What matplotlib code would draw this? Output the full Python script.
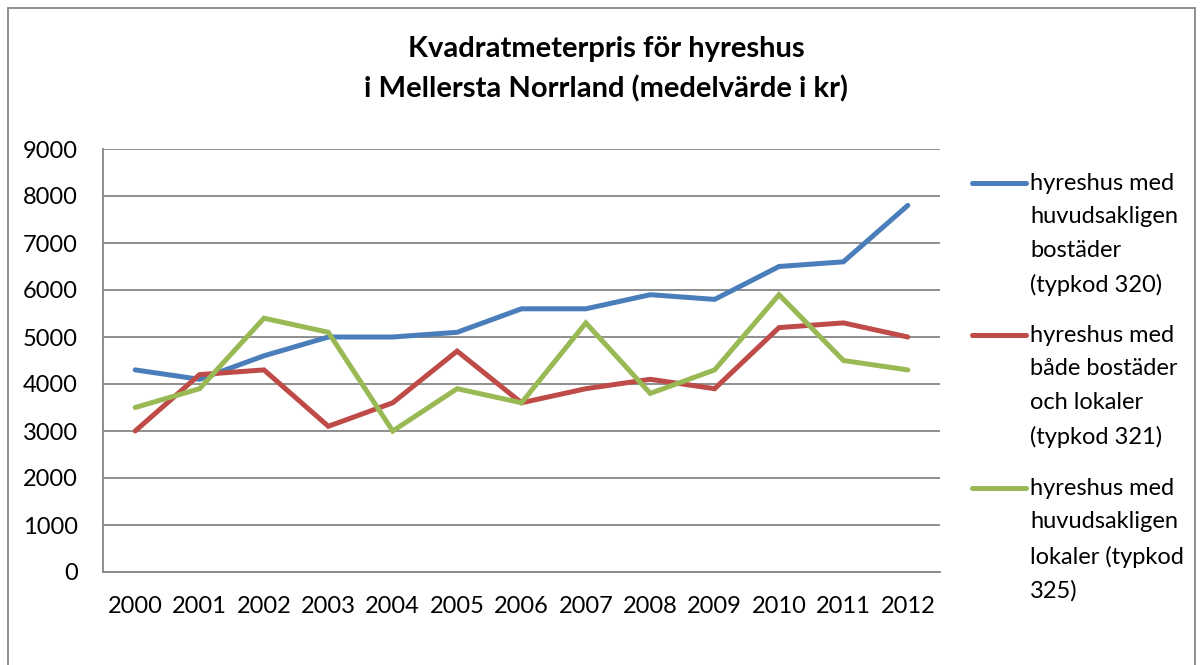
import matplotlib
matplotlib.use("Agg")
import matplotlib.pyplot as plt
from matplotlib.lines import Line2D
from matplotlib.patches import Rectangle

years = ["2000", "2001", "2002", "2003", "2004", "2005", "2006",
         "2007", "2008", "2009", "2010", "2011", "2012"]
bostader = [4300, 4100, 4600, 5000, 5000, 5100, 5600, 5600, 5900, 5800, 6500, 6600, 7800]
bostader_lokaler = [3000, 4200, 4300, 3100, 3600, 4700, 3600, 3900, 4100, 3900, 5200, 5300, 5000]
lokaler = [3500, 3900, 5400, 5100, 3000, 3900, 3600, 5300, 3800, 4300, 5900, 4500, 4300]

labels = [
    "hyreshus med\nhuvudsakligen\nbostäder\n(typkod 320)",
    "hyreshus med\nbåde bostäder\noch lokaler\n(typkod 321)",
    "hyreshus med\nhuvudsakligen\nlokaler (typkod\n325)",
]
colors = ["#4A7EBB", "#BE4B48", "#98B954"]

plt.rcParams['font.family'] = ['Lato', 'DejaVu Sans']

W, H = 1203, 665
fig = plt.figure(figsize=(W / 100, H / 100), dpi=100)

# outer chart border
fig.add_artist(Rectangle((8 / W, -0.01), (1195 - 8) / W, 1 - 8 / H + 0.01,
                         transform=fig.transFigure, fill=False,
                         ec="#868686", lw=1.3))

ax = fig.add_axes([103 / W, 1 - 572 / H, 837 / W, 423 / H])
x = range(len(years))
for vals, c in zip([bostader, bostader_lokaler, lokaler], colors):
    ax.plot(x, vals, color=c, lw=3.6, solid_capstyle="round", solid_joinstyle="miter")

ax.set_xlim(-0.5, len(years) - 0.5)
ax.set_ylim(0, 9000)
ax.set_yticks(range(0, 9001, 1000))
ax.set_xticks(list(x))
ax.set_xticklabels(years)
ax.tick_params(length=0, labelsize=17)
ax.tick_params(axis="x", pad=17)
ax.tick_params(axis="y", pad=18)
ax.grid(axis="y", color="#868686", lw=1.3)
ax.set_axisbelow(True)
for s in ["top", "right"]:
    ax.spines[s].set_visible(False)
for s in ["left", "bottom"]:
    ax.spines[s].set_color("#868686")
    ax.spines[s].set_linewidth(1.3)

fig.text(606 / W, 1 - 49 / H, "Kvadratmeterpris för hyreshus", ha="center", va="center",
         fontsize=21, fontweight="bold")
fig.text(606 / W, 1 - 89 / H, "i Mellersta Norrland (medelvärde i kr)", ha="center", va="center",
         fontsize=21, fontweight="bold")

# legend
leg_y = [183, 335, 488]
for yy, lab, c in zip(leg_y, labels, colors):
    fig.add_artist(Line2D([972 / W, 1026 / W], [1 - yy / H, 1 - yy / H],
                          transform=fig.transFigure, color=c, lw=3.6,
                          solid_capstyle="round"))
    fig.text(1030 / W, 1 - (yy - 10) / H, lab, ha="left", va="top",
             fontsize=17, linespacing=1.73)

fig.savefig("out.png", dpi=100)
